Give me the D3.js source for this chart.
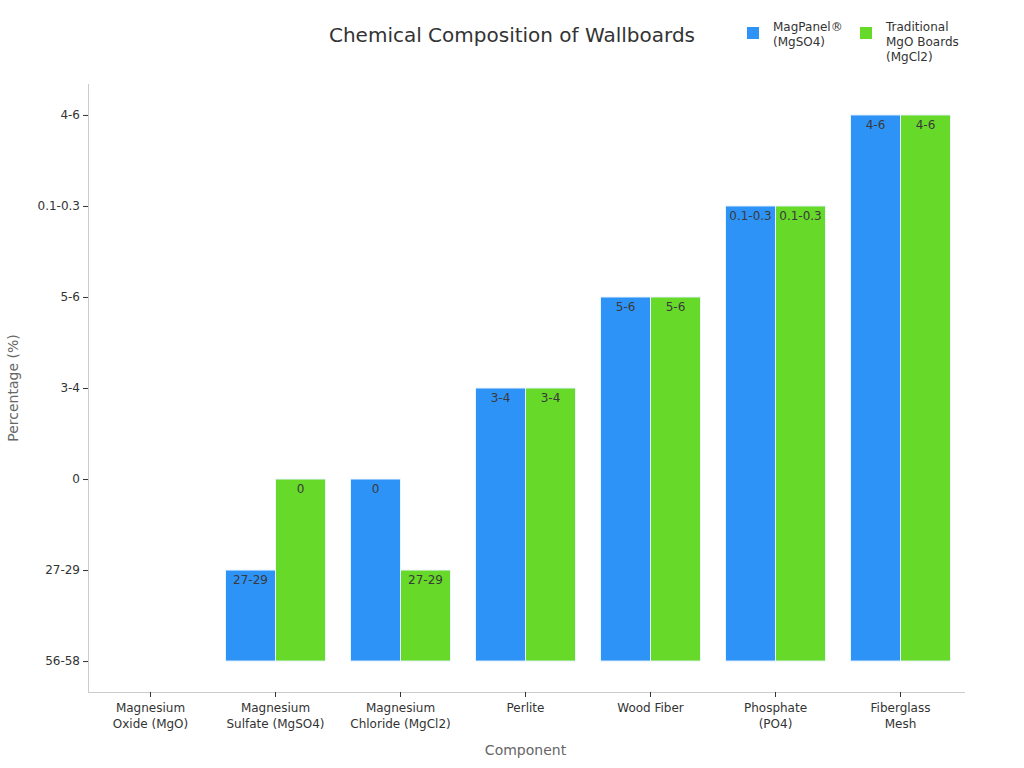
<!DOCTYPE html>
<html>
<head>
<meta charset="utf-8">
<script src="https://cdn.jsdelivr.net/npm/d3@7"></script>
<style>
  body { margin: 0; background: #fff; font-family: "DejaVu Sans", sans-serif; }
</style>
</head>
<body>
<div id="container"></div>
<script>
// Chart size and margins
const width = 1024;
const height = 768;
const marginTop = 84;
const marginRight = 61;
const marginBottom = 76;
const marginLeft = 88;

// Data
const components = ["Magnesium\nOxide (MgO)", "Magnesium\nSulfate (MgSO4)", "Magnesium\nChloride (MgCl2)", "Perlite", "Wood Fiber", "Phosphate\n(PO4)", "Fiberglass\nMesh"];
const seriesNames = ["MagPanel®\n(MgSO4)", "Traditional\nMgO Boards\n(MgCl2)"];
const magPanel = ["56-58", "27-29", "0", "3-4", "5-6", "0.1-0.3", "4-6"];
const traditional = ["56-58", "0", "27-29", "3-4", "5-6", "0.1-0.3", "4-6"];
const yCategories = ["56-58", "27-29", "0", "3-4", "5-6", "0.1-0.3", "4-6"];
const colors = ["#2E93F6", "#66D929"];

const svg = d3.select("#container").append("svg")
    .attr("width", width)
    .attr("height", height)
    .attr("viewBox", [0, 0, width, height])
    .style("font-family", "DejaVu Sans");

// Scales
const x = d3.scaleBand()
    .domain(components)
    .range([marginLeft, width - marginRight])
    .paddingInner(0.2)
    .paddingOuter(0.1);

const x1 = d3.scaleBand()
    .domain([0, 1])
    .range([0, x.bandwidth()]);

const y = d3.scalePoint()
    .domain(yCategories)
    .range([height - marginBottom, marginTop])
    .padding(0.34);

// Bars (bar base is the first category)
const base = y(yCategories[0]);
const allSeries = [magPanel, traditional];
allSeries.forEach((values, s) => {
    const g = svg.append("g");
    components.forEach((c, i) => {
        const v = values[i];
        const top = y(v);
        if (base - top <= 0) return;
        g.append("rect")
            .attr("x", x(c) + x1(s))
            .attr("y", top)
            .attr("width", x1.bandwidth())
            .attr("height", base - top)
            .attr("fill", colors[s])
            .attr("stroke", "#e8f4ff")
            .attr("stroke-width", 1);
        g.append("text")
            .attr("x", x(c) + x1(s) + x1.bandwidth() / 2)
            .attr("y", top + 14)
            .attr("text-anchor", "middle")
            .attr("fill", "#3a3a3a")
            .style("font-size", "12px")
            .text(v);
    });
});

// X axis
svg.append("g")
    .attr("transform", `translate(0,${height - marginBottom})`)
    .call(d3.axisBottom(x).tickSizeOuter(0).tickSize(5).tickFormat(""))
    .attr("font-family", "DejaVu Sans")
    .call(g => g.select(".domain").attr("stroke", "#ccc").attr("d", `M${marginLeft},0.5H${width - marginRight + 2}`))
    .call(g => g.selectAll(".tick line").attr("stroke", "#333"))
    .call(g => g.selectAll(".tick").each(function(d) {
        const t = d3.select(this).append("text")
            .attr("fill", "#333")
            .attr("text-anchor", "middle")
            .style("font-size", "12px");
        d.split("\n").forEach((line, k) => {
            t.append("tspan").attr("x", 0).attr("y", 20 + k * 16).text(line);
        });
    }));

svg.append("text")
    .attr("x", (marginLeft + width - marginRight) / 2)
    .attr("y", 755)
    .attr("text-anchor", "middle")
    .attr("fill", "#666")
    .style("font-size", "14px")
    .text("Component");

// Y axis
svg.append("g")
    .attr("transform", `translate(${marginLeft},0)`)
    .call(d3.axisLeft(y).tickSize(5).tickSizeOuter(0))
    .attr("font-family", "DejaVu Sans")
    .call(g => g.select(".domain").attr("stroke", "#ccc").attr("d", `M0.5,${marginTop}V${height - marginBottom}`))
    .call(g => g.selectAll(".tick line").attr("stroke", "#333"))
    .call(g => g.selectAll(".tick text").attr("fill", "#333").style("font-size", "12px"));

svg.append("text")
    .attr("transform", `translate(18,${(marginTop + height - marginBottom) / 2}) rotate(-90)`)
    .attr("text-anchor", "middle")
    .attr("fill", "#666")
    .style("font-size", "14px")
    .text("Percentage (%)");

// Title
svg.append("text")
    .attr("x", 512)
    .attr("y", 42)
    .attr("text-anchor", "middle")
    .attr("fill", "#333")
    .style("font-size", "20px")
    .text("Chemical Composition of Wallboards");

// Legend
const legendX = [747, 860];
seriesNames.forEach((name, s) => {
    const lg = svg.append("g").attr("transform", `translate(${legendX[s]},27)`);
    lg.append("rect")
        .attr("width", 12)
        .attr("height", 12)
        .attr("fill", colors[s]);
    const t = lg.append("text")
        .attr("fill", "#333")
        .style("font-size", "12px");
    name.split("\n").forEach((line, k) => {
        t.append("tspan").attr("x", 26).attr("y", 4 + k * 15).text(line);
    });
});
</script>
</body>
</html>
